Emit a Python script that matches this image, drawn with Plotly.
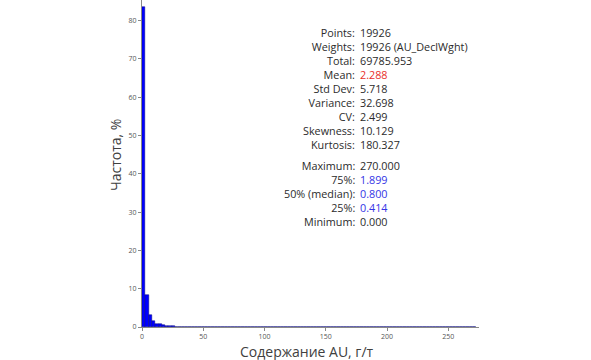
import numpy as np
import plotly.graph_objects as go

# Histogram data: 101 bins of width 2.7 starting at 0 (frequency, %)
bin_width = 2.7
freq = [
    83.7, 8.25, 3.2, 1.45, 0.85, 0.7, 0.4, 0.25, 0.15, 0.14,
    0.13, 0.12, 0.12, 0.11, 0.11, 0.1, 0.1, 0.1, 0.1, 0.09,
    0.09, 0.09, 0.09, 0.09, 0.08, 0.08, 0.08, 0.08, 0.08, 0.08,
    0.08, 0.08, 0.08, 0.08, 0.08, 0.08, 0.08, 0.08, 0.0, 0.07,
    0.07, 0.07, 0.07, 0.07, 0.07, 0.07, 0.07, 0.07, 0.07, 0.07,
    0.07, 0.07, 0.0, 0.0, 0.0, 0.0, 0.0, 0.0, 0.0, 0.0,
    0.0, 0.0, 0.0, 0.0, 0.0, 0.0, 0.0, 0.0, 0.0, 0.0,
    0.0, 0.0, 0.0, 0.0, 0.0, 0.0, 0.0, 0.0, 0.0, 0.0,
    0.0, 0.0, 0.0, 0.0, 0.0, 0.0, 0.0, 0.0, 0.0, 0.0,
    0.0, 0.0, 0.0, 0.0, 0.0, 0.0, 0.0, 0.0, 0.0, 0.0,
    0.07,
]
bin_left = np.arange(len(freq)) * bin_width

x_ticks = [0, 50, 100, 150, 200, 250]
y_ticks = [0, 10, 20, 30, 40, 50, 60, 70, 80]

x_title = "Содержание AU, г/т"
y_title = "Частота, %"

stat_labels = ["Points:", "Weights:", "Total:", "Mean:", "Std Dev:", "Variance:", "CV:",
               "Skewness:", "Kurtosis:", "Maximum:", "75%:", "50% (median):", "25%:", "Minimum:"]
stat_values = ["19926", "19926 (AU_DeclWght)", "69785.953", "2.288", "5.718", "32.698", "2.499",
               "10.129", "180.327", "270.000", "1.899", "0.800", "0.414", "0.000"]
stat_colors = ["#2b2b2b", "#2b2b2b", "#2b2b2b", "#e8302a", "#2b2b2b", "#2b2b2b", "#2b2b2b",
               "#2b2b2b", "#2b2b2b", "#2b2b2b", "#3434e6", "#3434e6", "#3434e6", "#2b2b2b"]

fig = go.Figure()
fig.add_trace(go.Bar(
    x=bin_left, y=freq, width=bin_width, offset=0,
    marker=dict(color="#0000ff", line=dict(color="#00007a", width=0.5)),
    hoverinfo="skip",
))

# plot area in pixels
L, R, T, B = 142, 479, 0, 327
W, H = 591, 360

def px_x(px):
    return (px - L) / (R - L)

def px_y(py):
    return (B - py) / (B - T)

STAT_FONT = "Open Sans"
STAT_SIZE = 10.8  # line spacing 1.3 * size ~ 14 px
groups = [(0, 9, 88.2), (9, 14, 193.9)]  # (start, end, centre y in px)
ann = []
for a, b, yc in groups:
    labels = "<br>".join(stat_labels[a:b])
    values = "<br>".join(
        f"<span style='color:{c}'>{v}</span>" for v, c in zip(stat_values[a:b], stat_colors[a:b])
    )
    ann.append(dict(x=px_x(355.5), y=px_y(yc), xref="paper", yref="paper", text=labels,
                    showarrow=False, xanchor="right", yanchor="middle", align="right",
                    borderpad=0, font=dict(family=STAT_FONT, size=STAT_SIZE, color="#2b2b2b")))
    ann.append(dict(x=px_x(358.5), y=px_y(yc), xref="paper", yref="paper", text=values,
                    showarrow=False, xanchor="left", yanchor="middle", align="left",
                    borderpad=0, font=dict(family=STAT_FONT, size=STAT_SIZE, color="#2b2b2b")))

# axis titles
ann.append(dict(x=px_x(307), y=px_y(351), xref="paper", yref="paper", text=x_title,
                showarrow=False, xanchor="center", yanchor="middle",
                font=dict(family="Open Sans", size=14, color="#404040")))
ann.append(dict(x=px_x(115), y=px_y(155), xref="paper", yref="paper", text=y_title,
                showarrow=False, xanchor="center", yanchor="middle", textangle=-90,
                font=dict(family="Open Sans", size=14, color="#404040")))

fig.update_layout(
    width=W, height=H,
    margin=dict(l=L, r=W - R, t=T, b=H - B, autoexpand=False),
    paper_bgcolor="white", plot_bgcolor="white",
    showlegend=False, bargap=0,
    annotations=ann,
    font=dict(family="Open Sans"),
)
fig.update_xaxes(range=[0, 275], tickvals=x_ticks, showgrid=False, zeroline=False,
                 automargin=False,
                 showline=True, linecolor="#888888", linewidth=1,
                 ticks="outside", ticklen=3, tickcolor="#888888",
                 tickfont=dict(size=7, color="#555555"))
fig.update_yaxes(range=[0, 85.4], tickvals=y_ticks, showgrid=False, zeroline=False,
                 automargin=False,
                 showline=True, linecolor="#888888", linewidth=1,
                 ticks="outside", ticklen=3, tickcolor="#888888",
                 tickfont=dict(size=7, color="#555555"))

fig.write_html("out.html", config={"displayModeBar": False},
               post_script="document.body.style.margin='0';")
